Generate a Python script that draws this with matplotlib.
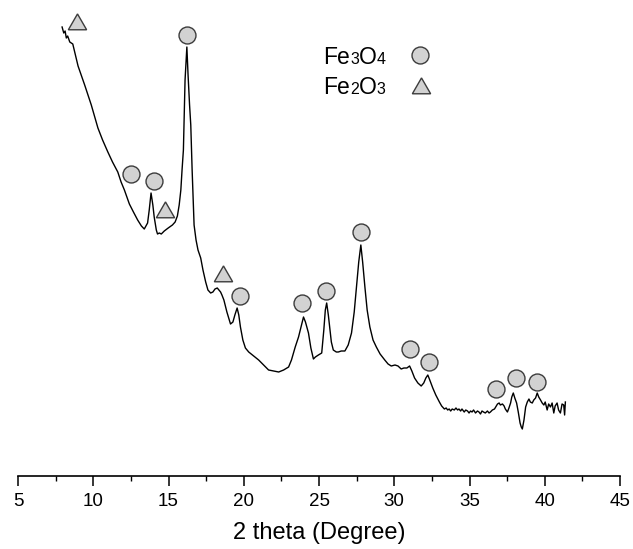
import matplotlib
matplotlib.use("Agg")
import matplotlib.pyplot as plt
from matplotlib.offsetbox import TextArea, HPacker, AnnotationBbox

plt.rcParams['font.family'] = ['Liberation Sans', 'DejaVu Sans']

# XRD pattern (2 theta in degrees, intensity in arbitrary units)
two_theta = [7.93, 8.04, 8.13, 8.21, 8.30, 8.44, 8.64, 8.99, 9.43, 9.87, 10.31, 10.62, 10.97, 11.28,
             11.63, 11.85, 12.07, 12.40, 12.67, 12.95, 13.20, 13.39, 13.61, 13.72, 13.84, 13.96,
             14.05, 14.19, 14.27, 14.39, 14.52, 14.72, 14.98, 15.26, 15.44, 15.59, 15.71, 15.82,
             15.90, 15.99, 16.04, 16.10, 16.22, 16.30, 16.40, 16.48, 16.57, 16.70, 16.83, 16.96,
             17.14, 17.29, 17.47, 17.62, 17.80, 17.95, 18.09, 18.24, 18.35, 18.46, 18.55, 18.68,
             18.88, 19.12, 19.28, 19.41, 19.56, 19.67, 19.78, 19.94, 20.11, 20.33, 20.66, 20.99,
             21.32, 21.65, 21.99, 22.32, 22.65, 22.98, 23.17, 23.42, 23.64, 23.84, 23.97, 24.10,
             24.30, 24.46, 24.63, 24.76, 24.96, 25.18, 25.32, 25.42, 25.51, 25.62, 25.73, 25.82,
             25.95, 26.15, 26.28, 26.48, 26.72, 26.94, 27.16, 27.34, 27.49, 27.64, 27.78, 27.90,
             28.05, 28.20, 28.38, 28.59, 28.81, 29.06, 29.37, 29.59, 29.80, 30.05, 30.25, 30.46,
             30.64, 30.84, 31.02, 31.17, 31.35, 31.57, 31.79, 31.96, 32.10, 32.23, 32.36, 32.56,
             32.76, 33.00, 33.15, 33.33, 33.45, 33.55, 33.65, 33.75, 33.85, 33.99,
             34.10, 34.21, 34.30, 34.41, 34.50, 34.65, 34.75, 34.87, 34.97, 35.07, 35.17, 35.27,
             35.40, 35.53, 35.63, 35.73, 35.83, 35.93, 36.05, 36.19, 36.30, 36.39, 36.52,
             36.66, 36.74, 36.86, 36.97, 37.05,
             37.19, 37.30, 37.38, 37.52, 37.62, 37.73, 37.81, 37.91, 38.01, 38.13, 38.24, 38.36,
             38.44, 38.51, 38.57, 38.62, 38.73, 38.84, 38.95, 39.04, 39.17, 39.27, 39.39, 39.50,
             39.60, 39.72, 39.83, 39.94, 40.03, 40.16, 40.26, 40.38, 40.49, 40.60, 40.69, 40.82,
             40.92, 41.04, 41.15, 41.26, 41.32, 41.37]
intensity = [449, 443, 445, 438, 440, 434, 432, 410, 391, 371, 348, 336, 324, 314,
             304, 294, 286, 272, 264, 256, 250, 247, 253, 266, 283, 271,
             259, 246, 242, 243, 242, 245, 248, 251, 254, 260, 271, 286,
             306, 326, 356, 396, 429, 401, 371, 351, 306, 251, 236, 226,
             218, 206, 194, 186, 183, 184, 187, 188, 186, 184, 181, 176,
             164, 152, 154, 161, 168, 161, 149, 136, 128, 124, 120, 116,
             111, 106, 105, 104, 106, 109, 116, 129, 139, 151, 159, 154,
             143, 128, 117, 119, 121, 123, 146, 166, 173, 161, 146, 134,
             126, 124, 124, 125, 125, 131, 143, 164, 189, 214, 231, 214,
             189, 166, 149, 136, 129, 122, 116, 112, 110, 111, 110, 107,
             108, 108, 110, 105, 98, 93, 90, 93, 98, 101, 96, 88,
             81, 74, 70, 67, 68, 66, 67, 65, 67, 66,
             68, 66, 67, 65, 67, 64, 66, 65, 63, 65, 64, 66,
             63, 65, 64, 62, 65, 64, 63, 65, 63, 64, 66,
             67, 69, 72, 73, 71,
             72, 70, 67, 64, 68, 73, 79, 83, 78, 73, 64, 53,
             49, 47, 52, 56, 69, 74, 77, 74, 73, 76, 78, 83,
             79, 76, 73, 71, 74, 66, 72, 69, 73, 63, 70, 73,
             66, 63, 72, 71, 61, 74]

# Peak markers
fe3o4_x = [12.50, 14.01, 16.22, 19.78, 23.90, 25.47, 27.78, 31.02, 32.30, 36.79, 38.07, 39.50]
fe3o4_y = [302, 295, 441, 180, 173, 185, 244, 127, 114, 87, 98, 94]
fe2o3_x = [8.92, 14.76, 18.61]
fe2o3_y = [452, 264, 200]

xticks = [5, 10, 15, 20, 25, 30, 35, 40, 45]

W, H = 633, 549
fig = plt.figure(figsize=(W / 100, H / 100), dpi=100)
ax = fig.add_axes([18 / W, (H - 476) / H, (620 - 18) / W, (476 - 10) / H])
ax.set_xlim(5, 45)
ax.set_ylim(0, 466)

ax.plot(two_theta, intensity, color='black', lw=1.0)

face = '#d2d2d2'
edge = '#3c3c3c'
ax.plot(fe3o4_x, fe3o4_y, linestyle='none', marker='o', ms=12.2,
        mfc=face, mec=edge, mew=1.0, clip_on=False)
ax.plot(fe2o3_x, fe2o3_y, linestyle='none', marker=(3, 0, 0), ms=15.2,
        mfc=face, mec=edge, mew=1.0, clip_on=False)

for s in ['left', 'right', 'top']:
    ax.spines[s].set_visible(False)
ax.spines['bottom'].set_linewidth(1.2)
ax.set_yticks([])
ax.set_xticks(xticks)
ax.set_xticks([7.5, 12.5, 17.5, 22.5, 27.5, 32.5, 37.5, 42.5], minor=True)
ax.tick_params(axis='x', which='major', direction='out', length=7, width=1.1,
               labelsize=13.5, pad=5)
ax.tick_params(axis='x', which='minor', direction='out', length=3.5, width=1.0)
ax.set_xlabel('2 theta (Degree)', fontsize=17, labelpad=9)


def formula(parts, x, y):
    kids = []
    for txt, sub in parts:
        kids.append(TextArea(txt, textprops=dict(fontsize=11.5 if sub else 16.5,
                                                 family='Liberation Sans')))
    box = HPacker(children=kids, align='baseline', pad=0, sep=0)
    ab = AnnotationBbox(box, (x, y), xycoords='data', box_alignment=(0, 0.5),
                        frameon=False, pad=0, annotation_clip=False)
    ax.add_artist(ab)


formula([('Fe', False), ('3', True), ('O', False), ('4', True)], 25.29, 419)
formula([('Fe', False), ('2', True), ('O', False), ('3', True)], 25.29, 389)
ax.plot([31.72], [421], linestyle='none', marker='o', ms=12.2,
        mfc=face, mec=edge, mew=1.0, clip_on=False)
ax.plot([31.79], [388], linestyle='none', marker=(3, 0, 0), ms=15.2,
        mfc=face, mec=edge, mew=1.0, clip_on=False)

fig.savefig('out.png', dpi=100)
